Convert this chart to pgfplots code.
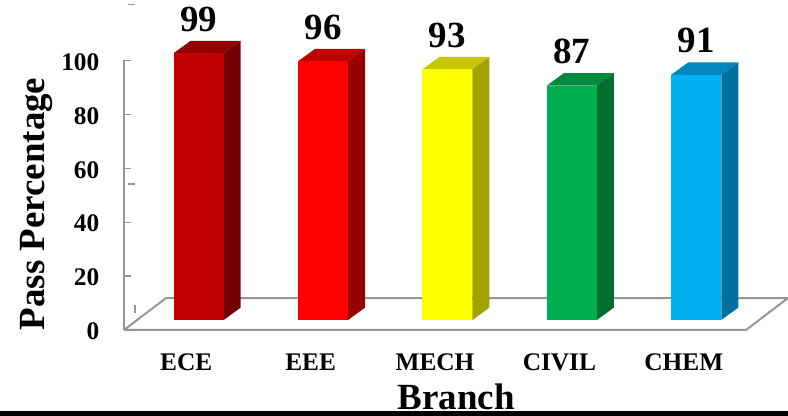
\documentclass[border=0pt]{standalone}
\usepackage{pgfplots}
\pgfplotsset{compat=1.18}
\usepackage{fontspec}
\setmainfont{Liberation Serif}
\newlength\px \setlength\px{0.75pt}
\definecolor{axgray}{HTML}{969696}
\definecolor{fa}{HTML}{C00000}\definecolor{sa}{HTML}{730000}\definecolor{ta}{HTML}{900000}
\definecolor{fb}{HTML}{FF0000}\definecolor{sb}{HTML}{990000}\definecolor{tb}{HTML}{BF0000}
\definecolor{fc}{HTML}{FFFF00}\definecolor{sc}{HTML}{A3A300}\definecolor{tc}{HTML}{C7C700}
\definecolor{fd}{HTML}{00B050}\definecolor{sd}{HTML}{007030}\definecolor{td}{HTML}{00883E}
\definecolor{fe}{HTML}{00B0F0}\definecolor{se}{HTML}{00709C}\definecolor{te}{HTML}{0088BC}
% x position, value, front, side, top
\newcommand\threeDbar[5]{%
  \addplot[fill=#5,draw=none,yshift=10\px,forget plot] coordinates {({#1-0.201},#2) ({#1+0.201},#2) ({#1+0.338},{#2+4.6}) ({#1-0.064},{#2+4.6})} --cycle;
  \addplot[fill=#4,draw=none,yshift=10\px,forget plot] coordinates {({#1+0.201},0) ({#1+0.338},4.6) ({#1+0.338},{#2+4.6}) ({#1+0.201},#2)} --cycle;
  \addplot[ybar,bar shift=0pt,bar width=50\px,fill=#3,draw=none,yshift=10\px,forget plot,
    nodes near coords,
    every node near coord/.append style={font=\bfseries\fontsize{27.7}{30}\selectfont,text=black,inner sep=0pt,anchor=base,yshift=22\px}]
    coordinates {(#1,#2)};
}
\begin{document}
\begin{tikzpicture}
\useasboundingbox (-124\px,-86\px) rectangle (664\px,330\px);
\begin{axis}[
  at={(0,0)},anchor=south west,
  scale only axis,width=622\px,height=269.5\px,
  xmin=-0.6,xmax=4.4,ymin=0,ymax=100,
  clip=false,
  axis y line*=left,axis x line*=bottom,
  axis line style={-,draw=axgray,line width=1.5\px},
  x axis line style={draw=none},
  xtick={-0.1,0.9,1.9,2.9,3.9},
  xticklabels={ECE,EEE,MECH,CIVIL,CHEM},
  ytick={0,20,40,60,80,100},
  /pgf/number format/assume math mode=true,
  tick style={draw=axgray,line width=1.2\px},
  major tick length=7\px,
  x tick style={draw=none},
  tick label style={font=\bfseries\fontsize{19}{21}\selectfont,text=black},
  y tick label style={xshift=-20\px,yshift=-1.5\px},
  x tick label style={yshift=-19\px},
  xlabel={Branch},
  ylabel={Pass Percentage},
  xlabel style={font=\bfseries\fontsize{27.7}{30}\selectfont,at={(axis description cs:0.534,0)},anchor=base,yshift=-80\px},
  ylabel style={font=\bfseries\fontsize{27.7}{30}\selectfont,at={(axis description cs:0,0.4675)},anchor=base,yshift=79\px},
]
\addplot[draw=axgray,line width=2\px,forget plot] coordinates {(-0.6,0) (-0.262,11.87) (4.738,11.87) (4.4,0) (-0.6,0)};
\threeDbar{0}{99}{fa}{sa}{ta}
\threeDbar{1}{96}{fb}{sb}{tb}
\threeDbar{2}{93}{fc}{sc}{tc}
\threeDbar{3}{87}{fd}{sd}{td}
\threeDbar{4}{91}{fe}{se}{te}
\end{axis}
\fill[black] (-124\px,-86\px) rectangle (664\px,-81\px);
\draw[axgray,line width=1.5\px] (4\px,325.5\px) -- (11\px,325.5\px);
\draw[axgray,line width=1.5\px] (4\px,146\px) -- (11\px,146\px);
\draw[axgray,line width=1.5\px] (11\px,17\px) -- (11\px,25\px);
\end{tikzpicture}
\end{document}
